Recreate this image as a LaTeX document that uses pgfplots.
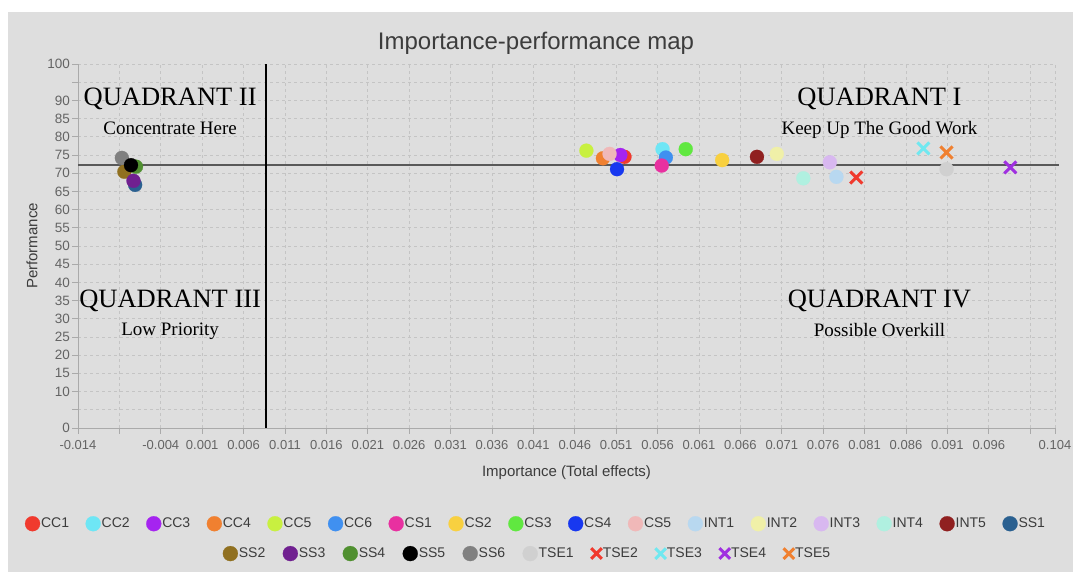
\documentclass[border=0pt]{standalone}
\usepackage{fontspec}
\setmainfont{Liberation Sans}
\newfontfamily\qfont{Liberation Serif}
\usepackage{pgfplots}
\pgfplotsset{compat=1.18}
\definecolor{bg}{RGB}{222,222,222}
\definecolor{axisgray}{RGB}{170,170,170}
\definecolor{gridgray}{RGB}{196,196,196}
\definecolor{ticktext}{RGB}{100,100,100}
\definecolor{titletext}{RGB}{60,60,60}
\definecolor{cc1}{RGB}{240,58,46}
\definecolor{cc2}{RGB}{110,230,245}
\definecolor{cc3}{RGB}{165,36,240}
\definecolor{cc4}{RGB}{240,128,48}
\definecolor{cc5}{RGB}{200,240,64}
\definecolor{cc6}{RGB}{64,144,240}
\definecolor{cs1}{RGB}{232,48,160}
\definecolor{cs2}{RGB}{248,208,64}
\definecolor{cs3}{RGB}{96,232,64}
\definecolor{cs4}{RGB}{24,56,240}
\definecolor{cs5}{RGB}{240,184,184}
\definecolor{int1}{RGB}{184,216,240}
\definecolor{int2}{RGB}{240,240,168}
\definecolor{int3}{RGB}{216,184,240}
\definecolor{int4}{RGB}{176,240,224}
\definecolor{int5}{RGB}{144,32,32}
\definecolor{ss1}{RGB}{42,96,144}
\definecolor{ss2}{RGB}{144,112,32}
\definecolor{ss3}{RGB}{112,32,144}
\definecolor{ss4}{RGB}{80,144,48}
\definecolor{ss5}{RGB}{0,0,0}
\definecolor{ss6}{RGB}{128,128,128}
\definecolor{tse1}{RGB}{208,208,208}
\definecolor{tse2}{RGB}{240,58,46}
\definecolor{tse3}{RGB}{112,232,240}
\definecolor{tse4}{RGB}{160,48,224}
\definecolor{tse5}{RGB}{240,128,48}
\pgfplotsset{
  dot/.style={only marks, mark=*, mark size=7bp, color=#1, mark options={draw=#1, fill=#1, line width=0.2bp}},
  crs/.style={only marks, mark=x, mark size=8.5bp, color=#1, mark options={draw=#1, line width=3bp}},
  mylegend/.style={legend style={draw=none, fill=none, anchor=center,
      font=\fontsize{14bp}{16bp}\selectfont, text=titletext,
      nodes={inner sep=1bp},
      /tikz/every even column/.append style={column sep=#1}},
    legend image code/.code={\draw[##1, mark size=7.5bp] plot coordinates {(0bp,0bp)};}},
}
\begin{document}
\begin{tikzpicture}
\fill[white] (0,0) rectangle (1073bp,572bp);
\fill[bg] (8bp,0) rectangle (1073bp,560bp);
\begin{axis}[
  at={(78bp,144bp)}, anchor=south west,
  width=977bp, height=364bp, scale only axis,
  xmin=-0.014, xmax=0.104, ymin=0, ymax=100,
  axis x line*=bottom, axis y line*=left,
  axis line style={draw=axisgray, line width=0.8bp, -},
  tick align=outside, major tick length=6bp,
  every tick/.style={draw=axisgray, line width=0.8bp},
  grid=major, major grid style={dash pattern=on 3bp off 3bp, draw=gridgray, line width=0.6bp},
  scaled x ticks=false, scaled y ticks=false,
  xtick={-0.014,-0.009,-0.004,0.001,0.006,0.011,0.016,0.021,0.026,0.031,0.036,0.041,0.046,0.051,0.056,0.061,0.066,0.071,0.076,0.081,0.086,0.091,0.096,0.101,0.104},
  xticklabels={-0.014,,-0.004,0.001,0.006,0.011,0.016,0.021,0.026,0.031,0.036,0.041,0.046,0.051,0.056,0.061,0.066,0.071,0.076,0.081,0.086,0.091,0.096,,0.104},
  ytick={0,5,10,15,20,25,30,35,40,45,50,55,60,65,70,75,80,85,90,95,100},
  yticklabels={0,,10,15,20,25,30,35,40,45,50,55,60,65,70,75,80,85,90,,100},
  tick label style={text=ticktext},
  xticklabel style={font=\fontsize{13bp}{15bp}\selectfont, inner sep=1bp, yshift=-5bp},
  yticklabel style={font=\fontsize{13.5bp}{15bp}\selectfont, inner sep=1bp, xshift=-1bp},
  xlabel={Importance (Total effects)},
  ylabel={Performance},
  label style={font=\fontsize{15bp}{17bp}\selectfont, text=titletext},
  xlabel style={at={(axis description cs:0.5,-0.1236)}, anchor=center},
  ylabel style={at={(axis description cs:-0.047,0.5)}, anchor=center, rotate=0},
  mylegend=15.6bp,
  legend columns=17,
  legend style={at={(axis description cs:0.4683,-0.263)}},
  clip=false,
]
\addplot[forget plot, draw=black!65, line width=2bp] coordinates {(-0.014,72.2) (0.1045,72.2)};
\addplot[forget plot, draw=black, line width=1.5bp] coordinates {(0.0087,0) (0.0087,100)};

\addplot[dot=cc1] coordinates {(0.0520,74.5)}; \addlegendentry{CC1}
\addplot[dot=cc2] coordinates {(0.0566,76.6)}; \addlegendentry{CC2}
\addplot[dot=cc3] coordinates {(0.0515,75.0)}; \addlegendentry{CC3}
\addplot[dot=cc4] coordinates {(0.0494,74.1)}; \addlegendentry{CC4}
\addplot[dot=cc5] coordinates {(0.0474,76.2)}; \addlegendentry{CC5}
\addplot[dot=cc6] coordinates {(0.0570,74.3)}; \addlegendentry{CC6}
\addplot[dot=cs1] coordinates {(0.0565,72.1)}; \addlegendentry{CS1}
\addplot[dot=cs2] coordinates {(0.0638,73.6)}; \addlegendentry{CS2}
\addplot[dot=cs3] coordinates {(0.0594,76.6)}; \addlegendentry{CS3}
\addplot[dot=cs4] coordinates {(0.0511,71.1)}; \addlegendentry{CS4}
\addplot[dot=cs5] coordinates {(0.0502,75.3)}; \addlegendentry{CS5}
\addplot[dot=int1] coordinates {(0.0776,69.0)}; \addlegendentry{INT1}
\addplot[dot=int2] coordinates {(0.0704,75.3)}; \addlegendentry{INT2}
\addplot[dot=int3] coordinates {(0.0768,73.0)}; \addlegendentry{INT3}
\addplot[dot=int4] coordinates {(0.0736,68.6)}; \addlegendentry{INT4}
\addplot[dot=int5] coordinates {(0.0680,74.5)}; \addlegendentry{INT5}
\addplot[dot=ss1] coordinates {(-0.0071,66.8)}; \addlegendentry{SS1}
\addplot[dot=ss2] coordinates {(-0.0084,70.4)};
\addplot[dot=ss3] coordinates {(-0.0073,67.9)};
\addplot[dot=ss4] coordinates {(-0.0070,71.8)};
\addplot[dot=ss6] coordinates {(-0.0087,74.2)};
\addplot[dot=ss5] coordinates {(-0.0076,72.2)};
\addplot[dot=tse1] coordinates {(0.0909,71.1)};
\addplot[crs=tse2] coordinates {(0.0800,68.8)};
\addplot[crs=tse3] coordinates {(0.0881,76.8)};
\addplot[crs=tse4] coordinates {(0.0986,71.6)};
\addplot[crs=tse5] coordinates {(0.0909,75.7)};

\node[font=\qfont\fontsize{26.5bp}{30bp}\selectfont, text=black] at (axis cs:-0.00287,90.4) {QUADRANT II};
\node[font=\qfont\fontsize{19bp}{22bp}\selectfont, text=black] at (axis cs:-0.00287,82.4) {Concentrate Here};
\node[font=\qfont\fontsize{26.5bp}{30bp}\selectfont, text=black] at (axis cs:0.0828,90.4) {QUADRANT I};
\node[font=\qfont\fontsize{19bp}{22bp}\selectfont, text=black] at (axis cs:0.0828,82.0) {Keep Up The Good Work};
\node[font=\qfont\fontsize{26.5bp}{30bp}\selectfont, text=black] at (axis cs:-0.00287,35.0) {QUADRANT III};
\node[font=\qfont\fontsize{19bp}{22bp}\selectfont, text=black] at (axis cs:-0.00287,26.6) {Low Priority};
\node[font=\qfont\fontsize{26.5bp}{30bp}\selectfont, text=black] at (axis cs:0.0828,35.0) {QUADRANT IV};
\node[font=\qfont\fontsize{19bp}{22bp}\selectfont, text=black] at (axis cs:0.0828,26.9) {Possible Overkill};
\end{axis}
\begin{axis}[
  at={(78bp,144bp)}, anchor=south west,
  width=977bp, height=364bp, scale only axis,
  hide axis, xmin=0, xmax=1, ymin=0, ymax=1,
  mylegend=16.5bp,
  legend columns=10,
  legend style={at={(axis description cs:0.4596,-0.345)}},
]
\addlegendimage{dot=ss2}\addlegendentry{SS2}
\addlegendimage{dot=ss3}\addlegendentry{SS3}
\addlegendimage{dot=ss4}\addlegendentry{SS4}
\addlegendimage{dot=ss5}\addlegendentry{SS5}
\addlegendimage{dot=ss6}\addlegendentry{SS6}
\addlegendimage{dot=tse1}\addlegendentry{TSE1}
\addlegendimage{crs=tse2}\addlegendentry{TSE2}
\addlegendimage{crs=tse3}\addlegendentry{TSE3}
\addlegendimage{crs=tse4}\addlegendentry{TSE4}
\addlegendimage{crs=tse5}\addlegendentry{TSE5}
\end{axis}
\node[font=\fontsize{24bp}{27bp}\selectfont, text=titletext] at (536bp,529bp) {Importance-performance map};
\end{tikzpicture}
\end{document}
